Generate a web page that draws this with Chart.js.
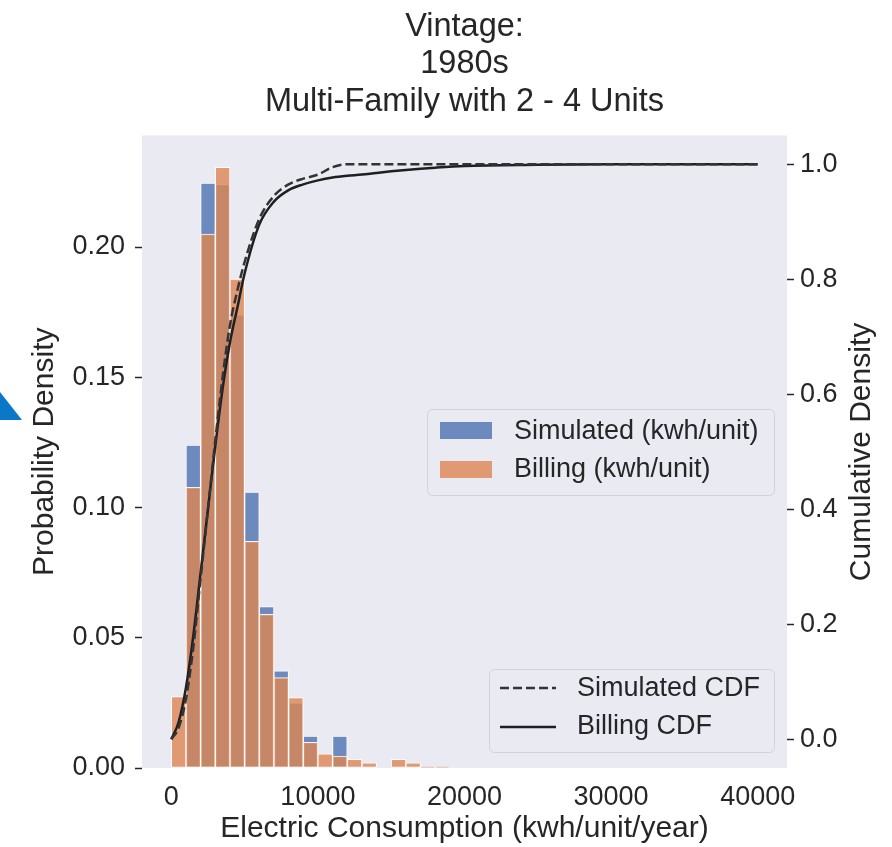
<!DOCTYPE html>
<html>
<head>
<meta charset="utf-8">
<script src="https://cdn.jsdelivr.net/npm/chart.js@4.4.1/dist/chart.umd.min.js"></script>
<style>
  body { margin: 0; background: #fff; }
  #wrap { position: relative; width: 892px; height: 847px; }
  #marker {
    position: absolute; left: 0; top: 392px; width: 22px; height: 28px;
    background: #0a78c8; clip-path: polygon(0 0, 100% 100%, 0 100%);
  }
</style>
</head>
<body>
<div id="wrap">
  <canvas id="vintageChart"></canvas>
  <div id="marker"></div>
</div>
<script>
// Histogram bins (kWh/unit/year), 1000 wide, given by their centres
const binCenters = [500, 1500, 2500, 3500, 4500, 5500, 6500, 7500, 8500, 9500,
  10500, 11500, 12500, 13500, 14500, 15500, 16500, 17500, 18500];
const simulatedShare = [0, 0.124, 0.2245, 0.224, 0.174, 0.1059, 0.062, 0.0373, 0.025, 0.0123,
  0, 0.0123, 0, 0, 0, 0, 0, 0, 0];
const billingShare = [0.0274, 0.1077, 0.205, 0.2306, 0.1877, 0.087, 0.059, 0.0347, 0.027, 0.0099,
  0.0054, 0.0046, 0.0033, 0.002, 0, 0.0033, 0.002, 0.0005, 0.0005];

// Cumulative curves
const cdfX = [0, 500, 1000, 1500, 2000, 2500, 3000, 3500, 4000, 4500, 5000, 6000, 7000, 8000,
  9000, 10000, 11000, 12000, 13000, 14000, 16000, 18000, 20000, 25000, 30000, 40000];
const simulatedCdf = [0, 0.02, 0.07, 0.16, 0.28, 0.40, 0.52, 0.63, 0.72, 0.78, 0.83, 0.905, 0.945, 0.965,
  0.975, 0.982, 0.995, 1.0, 1.0, 1.0, 1.0, 1.0, 1.0, 1.0, 1.0, 1.0];
const billingCdf = [0, 0.03, 0.09, 0.18, 0.29, 0.40, 0.51, 0.61, 0.69, 0.75, 0.81, 0.895, 0.935, 0.955,
  0.965, 0.972, 0.977, 0.98, 0.982, 0.985, 0.99, 0.994, 0.997, 0.999, 1.0, 1.0];

const xTicks = [0, 10000, 20000, 30000, 40000];
const densityTicks = [0, 0.05, 0.10, 0.15, 0.20];
const cumulativeTicks = [0, 0.2, 0.4, 0.6, 0.8, 1.0];

const titleLines = ["Vintage:", "1980s", "Multi-Family with 2 - 4 Units"];

const FONT = "'Liberation Sans', Arial, sans-serif";
const TEXT = "#262626";
const BLUE = "rgba(76, 114, 176, 0.8)";
const ORANGE = "rgba(221, 132, 82, 0.8)";

const pairs = (xs, ys) => xs.map((x, i) => ({ x: x, y: ys[i] }));
const fixTicks = list => axis => { axis.ticks = list.map(v => ({ value: v })); };

// grey panel behind the plot
const panelBg = {
  id: "panelBg",
  beforeDraw(chart) {
    const { ctx, chartArea: a } = chart;
    ctx.save();
    ctx.fillStyle = "#eaeaf2";
    ctx.fillRect(a.left, a.top, a.right - a.left, a.bottom - a.top);
    ctx.restore();
  }
};

// right axis label (reads bottom to top) and the two legend boxes
const extras = {
  id: "extras",
  afterDraw(chart) {
    const ctx = chart.ctx;
    ctx.save();
    ctx.font = "30px " + FONT;
    ctx.fillStyle = TEXT;
    ctx.textAlign = "center";
    ctx.textBaseline = "middle";
    ctx.translate(862, 452);
    ctx.rotate(-Math.PI / 2);
    ctx.fillText("Cumulative Density", 0, 0);
    ctx.restore();

    const box = (x, y, w, h) => {
      ctx.beginPath();
      ctx.roundRect(x, y, w, h, 5);
      ctx.fillStyle = "rgba(234, 234, 242, 0.8)";
      ctx.fill();
      ctx.strokeStyle = "#d2d2da";
      ctx.lineWidth = 1;
      ctx.stroke();
    };

    ctx.save();
    ctx.font = "27px " + FONT;
    ctx.textBaseline = "middle";
    ctx.textAlign = "left";

    box(427.5, 409.5, 347, 86);
    ctx.fillStyle = BLUE;
    ctx.fillRect(440, 422, 52, 17);
    ctx.fillStyle = ORANGE;
    ctx.fillRect(440, 461, 52, 17);
    ctx.fillStyle = TEXT;
    ctx.fillText("Simulated (kwh/unit)", 514, 432);
    ctx.fillText("Billing (kwh/unit)", 514, 470);

    box(489.5, 669.5, 285, 83);
    ctx.lineWidth = 2.5;
    ctx.strokeStyle = "#333";
    ctx.setLineDash([9, 4]);
    ctx.beginPath(); ctx.moveTo(500, 688); ctx.lineTo(556, 688); ctx.stroke();
    ctx.setLineDash([]);
    ctx.strokeStyle = "#1f1f1f";
    ctx.beginPath(); ctx.moveTo(500, 727); ctx.lineTo(556, 727); ctx.stroke();
    ctx.fillStyle = TEXT;
    ctx.fillText("Simulated CDF", 577, 689);
    ctx.fillText("Billing CDF", 577, 727);
    ctx.restore();
  }
};

const ctx = document.getElementById("vintageChart").getContext("2d");
new Chart(ctx, {
  type: "bar",
  data: {
    datasets: [
      {
        type: "line",
        label: "Simulated CDF",
        data: pairs(cdfX, simulatedCdf),
        yAxisID: "y2",
        borderColor: "#333",
        borderWidth: 2.5,
        borderDash: [9, 4],
        pointRadius: 0,
        cubicInterpolationMode: "monotone",
        order: 0
      },
      {
        type: "line",
        label: "Billing CDF",
        data: pairs(cdfX, billingCdf),
        yAxisID: "y2",
        borderColor: "#1f1f1f",
        borderWidth: 2.5,
        pointRadius: 0,
        cubicInterpolationMode: "monotone",
        order: 0
      },
      {
        label: "Billing (kwh/unit)",
        data: pairs(binCenters, billingShare),
        yAxisID: "y",
        backgroundColor: ORANGE,
        borderColor: "rgba(255, 255, 255, 0.9)",
        borderWidth: 1,
        borderSkipped: false,
        grouped: false,
        barPercentage: 1,
        categoryPercentage: 1,
        order: 1
      },
      {
        label: "Simulated (kwh/unit)",
        data: pairs(binCenters, simulatedShare),
        yAxisID: "y",
        backgroundColor: BLUE,
        borderColor: "rgba(255, 255, 255, 0.9)",
        borderWidth: 1,
        borderSkipped: false,
        grouped: false,
        barPercentage: 1,
        categoryPercentage: 1,
        order: 2
      }
    ]
  },
  options: {
    responsive: true,
    maintainAspectRatio: false,
    animation: false,
    layout: { padding: 0 },
    plugins: {
      legend: { display: false },
      tooltip: { enabled: false },
      title: {
        display: true,
        fullSize: false,
        text: titleLines,
        color: TEXT,
        font: { family: FONT, size: 32.5, weight: "normal", lineHeight: 1.154 },
        padding: { top: 8, bottom: 15 }
      }
    },
    scales: {
      x: {
        type: "linear",
        min: -2000,
        max: 42000,
        offset: false,
        afterBuildTicks: fixTicks(xTicks),
        afterFit: s => { s.height = 79; },
        border: { display: false },
        grid: { display: false },
        ticks: {
          color: TEXT,
          font: { family: FONT, size: 27 },
          padding: 5,
          maxRotation: 0,
          callback: v => String(v)
        },
        title: {
          display: true,
          text: "Electric Consumption (kwh/unit/year)",
          color: TEXT,
          font: { family: FONT, size: 30 },
          padding: { top: 0, bottom: 0 }
        }
      },
      y: {
        position: "left",
        min: 0,
        max: 0.2428,
        afterBuildTicks: fixTicks(densityTicks),
        afterFit: s => { s.width = 142; },
        border: { display: false },
        grid: { drawOnChartArea: false, drawTicks: true, tickLength: 7, tickColor: TEXT, tickWidth: 1.5 },
        ticks: {
          color: TEXT,
          font: { family: FONT, size: 27 },
          padding: 10,
          callback: v => v.toFixed(2)
        },
        title: {
          display: true,
          text: "Probability Density",
          color: TEXT,
          font: { family: FONT, size: 30 },
          padding: { top: 27, bottom: 0 }
        }
      },
      y2: {
        position: "right",
        min: -0.05,
        max: 1.05,
        afterBuildTicks: fixTicks(cumulativeTicks),
        afterFit: s => { s.width = 105; },
        border: { display: false },
        grid: { drawOnChartArea: false, drawTicks: true, tickLength: 7, tickColor: TEXT, tickWidth: 1.5 },
        ticks: {
          color: TEXT,
          font: { family: FONT, size: 27 },
          padding: 6,
          callback: v => v.toFixed(1)
        }
      }
    }
  },
  plugins: [panelBg, extras]
});
</script>
</body>
</html>
